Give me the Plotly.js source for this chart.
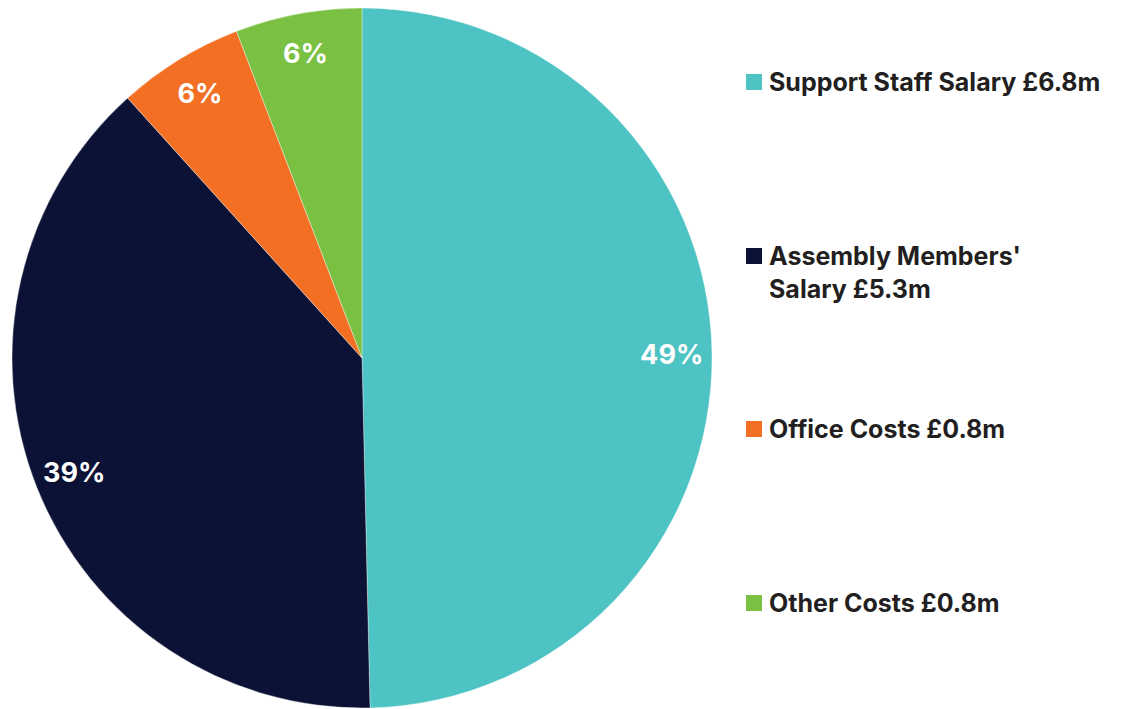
<!DOCTYPE html>
<html>
<head>
<meta charset="utf-8">
<script src="https://cdn.plot.ly/plotly-3.0.1.min.js"></script>
<style>html,body{margin:0;padding:0;background:#fff;}#chart{width:1125px;height:709px;}</style>
</head>
<body>
<div id="chart"></div>
<script>
const categories = ["Support Staff Salary", "Assembly Members' Salary", "Office Costs", "Other Costs"];
const values = [6.8, 5.3, 0.8, 0.8];
const percentLabels = ["49%", "39%", "6%", "6%"];
const legendLabels = ["Support Staff Salary £6.8m", "Assembly Members'<br>Salary £5.3m", "Office Costs £0.8m", "Other Costs £0.8m"];
const colors = ["#4EC3C3", "#0B1236", "#F26F23", "#7AC143"];

const W = 1125, H = 709;
const cx = 362, cy = 358, R = 350;
const dom = {x: [(cx - R) / W, (cx + R) / W], y: [(H - cy - R) / H, (H - cy + R) / H]};

const pie = {
  type: 'pie', labels: categories, values: values, sort: false, direction: 'clockwise', rotation: 0,
  domain: dom, marker: {colors: colors, line: {color: 'rgba(255,255,255,0.6)', width: 0.6}},
  textinfo: 'none', hoverinfo: 'label+value', showlegend: false
};
const ring = {
  type: 'pie', labels: categories, values: values, sort: false, direction: 'clockwise', rotation: 0,
  domain: dom, hole: 0.77, marker: {colors: ['rgba(0,0,0,0)','rgba(0,0,0,0)','rgba(0,0,0,0)','rgba(0,0,0,0)'], line: {width: 0}},
  text: percentLabels, textinfo: 'text', textposition: 'inside', insidetextorientation: 'horizontal',
  textfont: {family: 'Inter, sans-serif', size: 27, color: '#ffffff', weight: 'bold'},
  hoverinfo: 'skip', showlegend: false
};

const legendY = [82, 273, 429, 603];
const squareY = [82, 256, 429, 603];
const annotations = legendLabels.map((t, i) => ({
  xref: 'paper', yref: 'paper', x: 767 / W, y: (H - legendY[i]) / H, xanchor: 'left', yanchor: 'middle',
  text: '<b>' + t + '</b>', showarrow: false, align: 'left',
  font: {family: 'Inter, sans-serif', size: 25, color: '#231F20'}
}));
const shapes = colors.map((c, i) => ({
  type: 'rect', xref: 'paper', yref: 'paper',
  x0: 746 / W, x1: 762 / W, y0: (H - squareY[i] - 8) / H, y1: (H - squareY[i] + 8) / H,
  fillcolor: c, line: {width: 0}
}));

Plotly.newPlot('chart', [pie, ring], {
  width: W, height: H, margin: {l: 0, r: 0, t: 0, b: 0},
  paper_bgcolor: '#ffffff', showlegend: false,
  annotations: annotations, shapes: shapes
}, {displayModeBar: false, staticPlot: true});
</script>
</body>
</html>
